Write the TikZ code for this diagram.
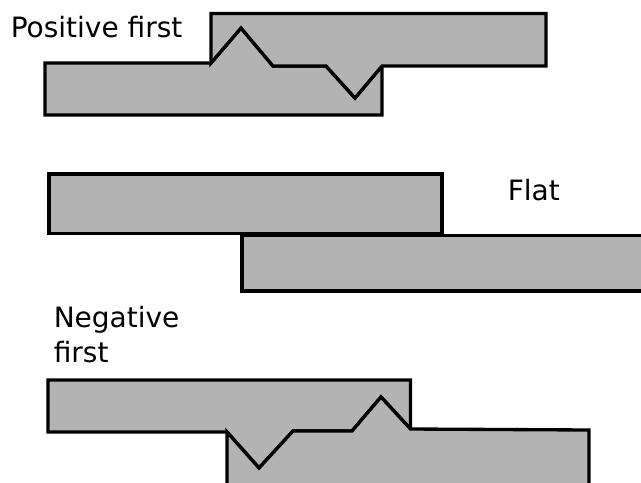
\documentclass[tikz,border=0pt]{standalone}
\usepackage{fontspec}
\setmainfont{DejaVu Sans}
\definecolor{platefill}{RGB}{179,179,179}
\tikzset{
  plate/.style={fill=platefill, draw=black, line width=2.5pt, line join=miter},
  caption/.style={anchor=base west, inner sep=0pt, align=left,
    font=\fontsize{21}{26.25}\selectfont}
}
\begin{document}
\begin{tikzpicture}[x=0.75pt, y=-0.75pt]
  \clip (0,0) rectangle (641,482);
  % positive first: peak then trough
  \coordinate (pa) at (211,63);  \coordinate (pb) at (241,28);
  \coordinate (pc) at (273,66);  \coordinate (pd) at (326,66);
  \coordinate (pe) at (355,98);  \coordinate (pf) at (382,66);
  \draw[plate] (45,63) -- (pa) -- (pb) -- (pc) -- (pd) -- (pe) -- (pf) -- (382,115) -- (45,115) -- cycle;
  \draw[plate] (pa) -- (211,13.5) -- (546,13.5) -- (546,66) -- (pf) -- (pe) -- (pd) -- (pc) -- (pb) -- cycle;
  \node[caption] (poslab) at (10.5,37) {Positive first};
  % flat
  \draw[plate] (49,174) rectangle (442,233.5);
  \draw[plate] (242,235.5) rectangle (660,291);
  \node[caption] (flatlab) at (507.5,200) {Flat};
  % negative first: trough then peak
  \coordinate (na) at (227,432);  \coordinate (nb) at (259,468);
  \coordinate (nc) at (293,431);  \coordinate (nd) at (352,431);
  \coordinate (ne) at (381,397);  \coordinate (nf) at (410.5,429);
  \draw[plate] (48,380) -- (410.5,380) -- (nf) -- (ne) -- (nd) -- (nc) -- (nb) -- (na) -- (48,432) -- cycle;
  \draw[plate] (na) -- (nb) -- (nc) -- (nd) -- (ne) -- (nf) -- (589,430) -- (589,500) -- (227,500) -- cycle;
  \node[caption] (neglab) at (53.5,362) {Negative\\first};
\end{tikzpicture}
\end{document}
